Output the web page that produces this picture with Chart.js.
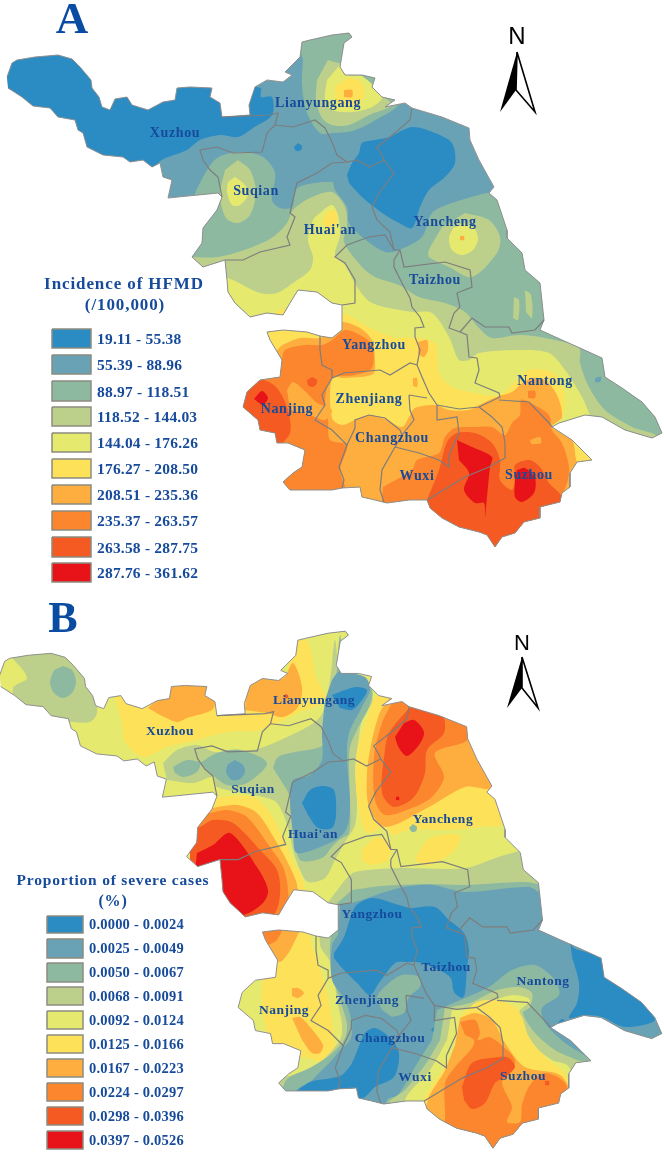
<!DOCTYPE html>
<html>
<head>
<meta charset="utf-8">
<title>HFMD maps</title>
<script src="https://cdn.jsdelivr.net/npm/chart.js@4"></script>
<style>
  body { margin: 0; background: #fff; }
  canvas { display: block; }
</style>
</head>
<body>
<canvas id="mapChart" width="664" height="1152"></canvas>
<script>
// Class breaks, one colour per class
const breaksA = ['19.11 - 55.38', '55.39 - 88.96', '88.97 - 118.51', '118.52 - 144.03', '144.04 - 176.26',
    '176.27 - 208.50', '208.51 - 235.36', '235.37 - 263.57', '263.58 - 287.75', '287.76 - 361.62'];
const breaksB = ['0.0000 - 0.0024', '0.0025 - 0.0049', '0.0050 - 0.0067', '0.0068 - 0.0091', '0.0092 - 0.0124',
    '0.0125 - 0.0166', '0.0167 - 0.0223', '0.0224 - 0.0297', '0.0298 - 0.0396', '0.0397 - 0.0526'];
const classColors = ['#2b8cc4', '#6aa2b5', '#8db9a1', '#bcd08c', '#e5ea6f', '#fde259', '#fdae3e', '#fc862e', '#f45a22', '#e81318'];

// Province outline and city borders, shared by both maps
const outline = [[7,77],[12,63],[17,60],[35,57],[58,55],[72,59],[80,67],[91,80],[92,88],[99,97],[102,107],[110,110],[115,99],[127,97],[132,105],[148,110],[163,102],[175,100],[177,88],[190,87],[212,88],[210,97],[220,103],[222,117],[250,115],[249,105],[255,87],[267,80],[283,82],[292,75],[285,72],[300,57],[302,42],[310,40],[332,35],[349,33],[352,37],[344,43],[340,67],[345,75],[362,75],[375,78],[372,87],[382,97],[395,100],[385,107],[405,103],[412,108],[442,117],[469,128],[470,140],[479,160],[494,187],[489,193],[497,200],[507,230],[507,238],[522,253],[525,270],[540,283],[544,320],[540,330],[562,340],[580,348],[602,358],[605,377],[622,388],[642,402],[655,417],[662,433],[652,438],[625,430],[602,417],[585,415],[559,423],[552,427],[572,440],[592,460],[577,462],[570,473],[570,487],[562,493],[560,502],[540,507],[540,518],[524,522],[515,533],[502,537],[495,547],[487,535],[479,532],[459,527],[442,518],[430,508],[427,500],[409,500],[387,503],[375,500],[362,497],[360,487],[342,488],[332,490],[290,490],[283,482],[293,473],[302,467],[305,450],[288,443],[277,443],[275,433],[260,430],[258,420],[243,407],[247,392],[260,380],[280,377],[282,360],[270,340],[267,332],[283,330],[307,332],[320,336],[332,338],[342,330],[342,305],[332,303],[317,292],[298,290],[290,303],[283,315],[267,313],[250,317],[235,303],[228,292],[227,280],[225,260],[203,267],[192,257],[202,243],[203,228],[217,210],[222,197],[218,193],[168,198],[172,180],[163,177],[160,163],[152,167],[143,160],[130,162],[123,157],[103,155],[87,147],[83,133],[78,130],[75,120],[58,117],[50,108],[33,106],[22,97],[8,88]];
const borders = [
    [[222,117],[270,115],[278,113],[275,125],[267,133],[262,152],[233,153],[217,147],[200,150],[203,160],[210,170],[218,177],[222,197]],
    [[275,125],[293,127],[315,120],[325,128],[332,142],[337,155],[347,162],[357,160],[370,167],[384,160],[382,155],[377,147],[395,133],[410,120],[412,108]],
    [[347,162],[332,163],[317,173],[297,183],[293,200],[290,213],[295,217],[287,237],[290,245],[260,252],[243,260],[225,260]],
    [[384,160],[394,173],[379,193],[372,207],[377,220],[390,232],[394,250],[400,250],[404,267],[445,262],[470,270],[472,287],[457,293],[460,307],[454,313],[449,328],[460,332],[467,335],[469,357],[477,358],[479,370],[475,383],[499,393],[500,397],[479,407],[459,409],[437,405]],
    [[394,250],[385,235],[369,237],[347,245],[335,257],[345,263],[355,280],[355,303],[342,305]],
    [[400,250],[394,260],[394,267],[402,283],[410,298],[412,307],[420,317],[424,327],[415,328],[415,337],[420,350],[417,365],[422,377],[429,393],[437,405]],
    [[460,332],[472,318],[485,327],[509,327],[512,333],[535,330],[544,320]],
    [[320,336],[320,350],[322,365],[332,370],[332,378],[344,373],[380,370],[390,375],[410,363],[417,365]],
    [[332,378],[322,395],[325,405],[315,420],[332,430],[347,445],[355,428],[355,420],[369,415],[385,418],[400,430],[402,435],[395,447],[382,470],[380,490],[384,502]],
    [[347,445],[339,467],[344,480],[342,488]],
    [[409,395],[427,398]],
    [[409,395],[410,410],[414,420],[402,435]],
    [[395,447],[419,453],[439,460],[449,467],[449,455],[459,433],[457,417],[437,420],[437,405]],
    [[427,500],[465,477],[489,467],[505,458],[505,443],[502,427],[492,417],[479,407]],
    [[499,400],[529,402],[549,423],[552,427]]
];

// Panel A zones
const a0West = [[0,40],[250,40],[257,87],[261,88],[261,97],[272,97],[272,115],[253,128],[238,137],[220,135],[200,140],[187,150],[158,163],[140,200],[0,200]];
const a0Dot = [[298,143],[302,146],[301,150],[296,151],[294,147]];
const a0East = [[347,175],[352,163],[359,153],[362,143],[375,140],[389,137],[412,127],[435,133],[452,143],[455,163],[445,177],[429,190],[420,207],[412,228],[399,223],[382,213],[362,197],[349,183]];
const a2North = [[295,30],[360,30],[400,100],[372,122],[352,131],[332,133],[320,133],[307,113],[302,85],[303,60]];
const a3North = [[328,60],[345,66],[345,75],[380,95],[392,105],[369,115],[349,125],[332,125],[322,118],[316,100],[317,80]];
const a4North = [[339,66],[348,75],[362,76],[382,97],[372,107],[352,112],[332,110],[325,100],[327,80]];
const a5North = [[335,87],[349,78],[362,83],[364,97],[349,107],[335,100]];
const a6North = [[344,90],[352,90],[352,97],[344,97]];
const a2South = [[192,200],[203,177],[217,158],[240,152],[263,157],[275,173],[272,200],[280,208],[292,207],[297,188],[332,182],[335,190],[347,207],[349,223],[362,237],[385,252],[399,250],[422,237],[432,213],[452,203],[492,192],[520,190],[560,300],[664,300],[664,600],[150,600],[150,300]];
const a3Suqian = [[238,160],[250,170],[256,192],[250,215],[238,223],[226,218],[220,195],[225,170]];
const a4Suqian = [[235,177],[245,185],[248,195],[240,205],[232,205],[227,192],[228,182]];
const a3South = [[190,257],[218,257],[250,248],[273,237],[287,223],[293,210],[310,198],[332,192],[345,207],[347,227],[344,242],[362,267],[375,277],[399,285],[419,297],[445,303],[465,312],[479,328],[492,338],[519,335],[545,338],[579,348],[580,363],[589,387],[605,410],[632,427],[660,440],[664,600],[100,600],[100,300]];
const a3Yancheng = [[465,213],[489,220],[500,237],[497,253],[472,277],[449,267],[429,257],[429,250],[442,227]];
const a4Yancheng = [[463,223],[474,228],[478,239],[473,250],[462,255],[452,250],[449,238],[453,228]];
const a6Yancheng = [[460,236],[464,236],[464,240],[460,240]];
const a3Spot1 = [[514,297],[519,300],[518,320],[513,318]];
const a3Spot2 = [[525,290],[531,295],[532,318],[526,312]];
const a1Spot = [[595,378],[601,377],[600,382],[595,382]];
const a4South = [[225,277],[233,280],[260,293],[277,293],[293,283],[310,270],[313,257],[308,240],[313,220],[320,213],[332,205],[338,215],[340,235],[335,255],[345,265],[357,287],[372,303],[412,312],[432,313],[449,337],[459,360],[469,360],[479,353],[519,350],[549,353],[565,370],[582,397],[589,413],[600,440],[620,520],[300,520],[200,400],[200,320]];
const a5Huaian = [[327,212],[335,210],[337,222],[330,232],[322,222]];
const a5South = [[250,325],[270,325],[277,311],[290,311],[300,325],[335,325],[342,313],[365,325],[392,337],[415,338],[435,343],[439,373],[452,387],[475,393],[499,395],[517,380],[529,370],[545,370],[558,377],[565,400],[562,417],[552,427],[575,437],[595,465],[575,470],[570,560],[250,560]];
const a6South = [[282,345],[300,338],[320,338],[332,330],[342,322],[360,328],[372,340],[375,360],[373,374],[345,378],[332,378],[332,418],[342,425],[355,420],[369,415],[387,420],[402,427],[409,417],[415,408],[435,405],[449,410],[469,410],[479,405],[499,396],[512,392],[520,385],[532,378],[545,380],[557,395],[562,417],[552,427],[572,440],[577,462],[590,480],[500,560],[250,560],[230,400]];
const a6Spot1 = [[418,342],[427,340],[428,350],[424,357],[418,354]];
const a6Spot2 = [[413,378],[417,378],[417,387],[413,386]];
const a7West = [[243,380],[280,362],[285,350],[305,345],[322,345],[332,340],[345,330],[360,335],[372,345],[372,368],[355,375],[332,378],[325,400],[328,420],[330,440],[347,445],[340,470],[345,495],[250,500]];
const a7East = [[383,487],[412,470],[417,460],[439,453],[445,437],[455,428],[475,427],[492,427],[505,435],[512,423],[520,415],[521,400],[529,402],[549,415],[552,430],[562,443],[569,467],[567,483],[560,497],[540,520],[500,560],[380,520]];
const a7Spot = [[528,391],[535,391],[535,398],[528,398]];
const a6Patch = [[287,390],[293,382],[307,393],[317,403],[332,410],[325,420],[310,415],[290,410]];
const a6Dot = [[530,440],[540,437],[541,443],[531,444]];
const a8West = [[240,407],[247,392],[262,380],[277,388],[288,410],[290,433],[277,445],[255,430]];
const a8Spot = [[312,377],[317,380],[316,385],[312,387],[308,385],[307,380]];
const a9West = [[254,399],[262,391],[268,398],[263,406]];
const a8East = [[427,500],[439,470],[447,442],[457,433],[475,433],[492,443],[500,460],[500,480],[512,490],[515,477],[515,465],[529,460],[540,467],[549,483],[562,498],[560,560],[430,560]];
const a9Main = [[457,440],[472,447],[492,457],[490,467],[487,497],[485,517],[484,503],[475,503],[464,490],[469,473],[459,460]];
const a9Suzhou = [[517,470],[525,468],[535,478],[534,493],[522,502],[515,497],[515,480]];

// Panel B zones
const b3West = [[10,655],[27,678],[13,688],[20,720],[73,722],[90,722],[97,713],[95,680],[70,640],[10,640]];
const b2West = [[63,666],[72,670],[76,682],[72,693],[63,698],[54,693],[50,682],[54,670]];
const b5North = [[115,697],[122,723],[125,742],[143,757],[167,747],[197,740],[227,732],[260,730],[300,712],[325,700],[316,677],[307,640],[290,640],[285,700],[240,660],[120,660]];
const b6Xuzhou = [[148,708],[170,687],[170,670],[207,670],[215,700],[212,710],[187,718],[177,722],[160,715]];
const b6Lyg = [[245,710],[248,685],[258,678],[283,678],[293,663],[302,687],[298,707],[283,717],[267,713]];
const b8Dot = [[285,694],[288,695],[288,698],[285,698]];
const b3Center = [[163,763],[177,750],[197,745],[215,752],[253,750],[287,737],[320,717],[330,680],[335,640],[341,672],[365,690],[373,700],[362,720],[358,745],[355,770],[357,800],[355,825],[345,842],[335,860],[325,878],[308,882],[300,870],[293,850],[288,827],[277,803],[263,797],[217,787],[213,777],[193,783],[167,780]];
const b2Suqian = [[200,763],[217,753],[240,750],[267,763],[247,783],[227,785],[210,773]];
const b2Left = [[173,767],[187,760],[200,763],[197,772],[183,777],[175,773]];
const b1Dot = [[235,760],[243,765],[245,772],[240,779],[232,780],[226,772],[228,764]];
const b2Center = [[273,768],[278,757],[295,752],[320,747],[332,735],[335,700],[340,635],[345,672],[352,673],[372,690],[369,707],[357,730],[350,747],[349,767],[350,800],[349,833],[339,840],[332,847],[322,858],[300,860],[295,830],[291,800],[287,790]];
const b1Center = [[332,680],[339,672],[365,677],[370,690],[362,707],[349,733],[347,757],[350,800],[349,820],[344,833],[332,842],[297,853],[293,833],[290,800],[293,780],[310,775],[322,760],[322,733],[325,700]];
const b0Lyg = [[332,695],[345,690],[357,687],[367,690],[362,700],[352,710],[340,708]];
const b0Huaian = [[302,803],[310,790],[323,786],[334,790],[336,815],[332,828],[318,828],[308,815]];
const b5East = [[374,697],[364,727],[357,750],[356,787],[359,810],[367,833],[385,827],[393,835],[409,830],[449,830],[480,827],[505,823],[520,790],[520,700],[400,690]];
const b5Patch1 = [[362,850],[375,838],[390,842],[388,860],[370,865],[362,860]];
const b5Patch2 = [[415,858],[430,838],[460,835],[455,850],[430,865],[417,862]];
const b2Dot = [[413,824],[417,827],[416,831],[412,832],[409,828]];
const b6East = [[388,700],[380,712],[372,740],[367,773],[369,807],[385,827],[429,807],[465,787],[492,787],[480,700],[460,700],[400,690]];
const b7East = [[392,703],[382,723],[374,757],[375,800],[385,815],[412,808],[432,797],[444,777],[435,753],[465,742],[470,735],[469,727],[415,707],[397,700]];
const b8East = [[409,708],[389,733],[385,750],[382,793],[394,807],[414,797],[425,773],[427,750],[444,733],[442,715],[412,707]];
const b9East = [[404,723],[414,720],[424,732],[419,745],[407,756],[399,748],[395,737]];
const b9Dot = [[396,797],[399,797],[399,800],[396,800]];
const b5Lobe = [[190,800],[217,797],[253,797],[270,813],[287,847],[295,865],[303,880],[305,915],[190,915]];
const b6Lobe = [[190,810],[213,808],[237,805],[257,813],[277,843],[290,867],[297,885],[297,915],[190,915]];
const b7Lobe = [[190,815],[210,813],[227,810],[247,817],[270,847],[283,867],[288,890],[285,915],[190,915]];
const b8Lobe = [[190,830],[200,827],[213,820],[233,823],[260,850],[277,870],[280,895],[272,915],[190,915]];
const b9Lobe = [[197,853],[213,845],[230,833],[257,867],[268,890],[263,903],[243,915],[190,915]];
const b5Nanjing = [[275,925],[305,925],[312,945],[325,985],[332,1020],[335,1050],[332,1063],[302,1057],[285,1060],[270,1040],[262,1010],[262,985]];
const b6NanjingTop = [[258,922],[300,922],[293,945],[280,962],[270,950]];
const b7NanjingTop = [[258,922],[283,922],[277,940],[268,945]];
const b6NanjingSpot = [[292,988],[298,988],[304,993],[298,998],[292,996]];
const b6NanjingLong = [[292,1018],[300,1017],[310,1027],[323,1045],[320,1053],[312,1053],[302,1040]];
const b3Se = [[345,880],[355,872],[399,868],[465,868],[505,855],[540,850],[560,880],[664,900],[664,1152],[270,1152],[280,1080],[293,1075],[320,1062],[340,1040],[342,1025],[337,1000],[332,965],[320,945],[322,910]];
const b2Se = [[352,890],[382,886],[429,884],[465,885],[525,882],[540,885],[560,900],[664,900],[664,1152],[275,1152],[285,1082],[310,1068],[330,1055],[344,1040],[347,1025],[340,1000],[332,975],[330,945],[335,905]];
const b1Se = [[340,905],[352,903],[399,888],[432,885],[465,892],[529,887],[545,895],[664,900],[664,1152],[280,1152],[295,1092],[310,1082],[320,1072],[332,1060],[340,1050],[350,1040],[352,1025],[345,1000],[332,980],[332,945],[338,935]];
const b0Yangzhou = [[334,953],[344,937],[355,907],[372,898],[399,905],[410,908],[435,907],[449,920],[464,933],[469,950],[467,967],[465,993],[462,998],[454,992],[450,977],[422,963],[405,962],[395,963],[379,983],[370,995],[357,983],[342,968],[334,958]];
const b2Zhenjiang = [[382,1010],[377,997],[389,983],[402,975],[419,977],[420,987],[409,997],[404,1013],[392,1017]];
const b0Changzhou = [[295,1092],[310,1082],[332,1078],[342,1075],[352,1063],[365,1033],[375,1028],[389,1037],[399,1053],[394,1077],[375,1087],[365,1097],[355,1100],[290,1100]];
const b0Dot = [[431,1030],[436,1026],[441,1030],[436,1034]];
const b0Tip = [[570,940],[574,948],[602,958],[605,977],[622,988],[642,1002],[655,1020],[625,1027],[602,1017],[585,1015],[569,1018],[577,1003],[579,983],[572,957]];
const b0Spot = [[557,1024],[562,1019],[567,1023],[562,1028]];
const b2Nantong = [[437,1010],[465,998],[489,987],[512,970],[535,965],[555,980],[559,995],[542,1008],[545,1023],[565,1043],[584,1055],[592,1062],[600,1100],[600,1152],[380,1152],[387,1100],[398,1095],[418,1062],[432,1040]];
const b3Suzhou = [[445,1008],[470,1003],[497,990],[519,987],[532,993],[530,1007],[523,1013],[535,1033],[555,1050],[577,1060],[590,1065],[600,1152],[390,1152],[387,1105],[405,1090],[425,1065],[440,1040]];
const b4Suzhou = [[452,1010],[470,1007],[500,998],[515,995],[530,1000],[519,1013],[532,1043],[552,1060],[569,1067],[600,1152],[400,1152],[405,1100],[430,1070],[447,1040]];
const b5Suzhou = [[467,1010],[477,1002],[495,1000],[515,1007],[522,1017],[529,1037],[545,1057],[562,1070],[572,1087],[600,1152],[420,1152],[424,1100],[445,1067],[456,1045],[460,1017]];
const b6Suzhou = [[460,1018],[475,1013],[492,1020],[505,1043],[525,1067],[560,1075],[575,1100],[600,1152],[430,1152],[427,1103],[445,1070],[455,1045]];
const b7Suzhou = [[460,1022],[475,1020],[480,1033],[478,1040],[489,1037],[499,1043],[515,1060],[510,1073],[502,1083],[512,1107],[507,1122],[520,1122],[522,1105],[530,1085],[545,1073],[565,1083],[570,1110],[560,1152],[440,1152],[445,1120],[445,1083],[455,1067],[472,1048],[474,1040],[465,1035]];
const b8Suzhou = [[462,1087],[472,1063],[499,1057],[509,1058],[515,1067],[505,1077],[495,1083],[485,1103],[472,1109],[464,1100]];
const b8Dot2 = [[545,1081],[549,1081],[549,1085],[545,1085]];
const b6Dot2 = [[463,1046],[467,1046],[467,1050],[463,1050]];

// Painted back to front: [class index, polygon]
const zonesA = [
    [0,a0West],[0,a0Dot],[0,a0East],[2,a2North],[3,a3North],[4,a4North],[5,a5North],[6,a6North],
    [2,a2South],[3,a3Suqian],[4,a4Suqian],[3,a3South],[3,a3Yancheng],[4,a4Yancheng],[6,a6Yancheng],[3,a3Spot1],[3,a3Spot2],[1,a1Spot],
    [4,a4South],[5,a5Huaian],[5,a5South],[6,a6South],[6,a6Spot1],[6,a6Spot2],
    [7,a7West],[7,a7East],[7,a7Spot],[6,a6Patch],[6,a6Dot],[8,a8West],[8,a8Spot],[9,a9West],[8,a8East],[9,a9Main],[9,a9Suzhou]
];
const zonesB = [
    [3,b3West],[2,b2West],[5,b5North],[6,b6Xuzhou],[6,b6Lyg],[8,b8Dot],
    [3,b3Center],[2,b2Suqian],[2,b2Left],[1,b1Dot],[2,b2Center],[1,b1Center],[0,b0Lyg],[0,b0Huaian],
    [5,b5East],[5,b5Patch1],[5,b5Patch2],[2,b2Dot],[6,b6East],[7,b7East],[8,b8East],[9,b9East],[9,b9Dot],
    [5,b5Lobe],[6,b6Lobe],[7,b7Lobe],[8,b8Lobe],[9,b9Lobe],[5,b5Nanjing],[6,b6NanjingTop],[7,b7NanjingTop],[6,b6NanjingSpot],[6,b6NanjingLong],
    [3,b3Se],[2,b2Se],[1,b1Se],[0,b0Yangzhou],[2,b2Zhenjiang],[0,b0Changzhou],[0,b0Dot],[0,b0Tip],[0,b0Spot],
    [2,b2Nantong],[3,b3Suzhou],[4,b4Suzhou],[5,b5Suzhou],[6,b6Suzhou],[7,b7Suzhou],[8,b8Suzhou],[8,b8Dot2],[6,b6Dot2]
];

// City names: [name, centre x, centre y]
const citiesA = [['Xuzhou',175,133],['Lianyungang',318,103],['Suqian',256,191],["Huai'an",330,230],['Yancheng',445,222],['Taizhou',435,280],
    ['Yangzhou',374,345],['Nantong',545,381],['Nanjing',287,409],['Zhenjiang',369,399],['Changzhou',392,438],['Wuxi',417,476],['Suzhou',529,475]];
const citiesB = [['Xuzhou',170,732],['Lianyungang',314,701],['Suqian',253,790],["Huai'an",313,835],['Yancheng',443,820],['Yangzhou',372,915],
    ['Taizhou',446,968],['Nantong',543,982],['Nanjing',284,1011],['Zhenjiang',367,1001],['Changzhou',390,1039],['Wuxi',415,1078],['Suzhou',523,1077]];

// Legend boxes, top and bottom edge of each
const swatchTopA = [329,355,381,407,433,459,485,511,537,563];
const swatchBottomA = [348,374,401,426,452,478,504,530,557,582];
const swatchTopB = [916,939,963,987,1011,1035,1059,1083,1107,1131];
const swatchBottomB = [933,958,982,1005,1029,1053,1077,1101,1125,1149];

const arrowLeftA = [[517,52],[516,90],[500,112]];
const arrowRightA = [[517,52],[535,112],[516,90]];
const arrowLeftB = [[522,657],[522,688],[507,708]];
const arrowRightB = [[522,657],[538,708],[522,688]];

const textBlue = '#164a9b';
const serif = '"Liberation Serif", serif';

function polygon(points, color, xAxisID, yAxisID, tension) {
    return {
        data: points, xAxisID: xAxisID || 'x', yAxisID: yAxisID || 'y', showLine: true, fill: 'shape',
        backgroundColor: color, borderWidth: 0, borderColor: color, pointRadius: 0, tension: tension || 0, clip: false
    };
}
function path(points, color, width, xAxisID, yAxisID) {
    return {
        data: points, xAxisID: xAxisID || 'x', yAxisID: yAxisID || 'y', showLine: true, fill: false,
        borderColor: color, borderWidth: width, pointRadius: 0, clip: false
    };
}
function box(x0, x1, top, bottom, color) {
    const ds = polygon([[x0, top], [x1, top], [x1, bottom], [x0, bottom], [x0, top]], color);
    ds.borderColor = '#8c8c80';
    ds.borderWidth = 1.5;
    return ds;
}

// Map fills come first, they get clipped to the province shape
let datasets = [];
datasets.push(polygon(outline, classColors[1]));
zonesA.forEach(z => datasets.push(polygon(z[1], classColors[z[0]], 'x', 'y', 0.3)));
datasets.push(polygon(outline, classColors[4], 'mapX', 'mapY'));
zonesB.forEach(z => datasets.push(polygon(z[1], classColors[z[0]], 'x', 'y', 0.3)));
const fillCount = datasets.length;

datasets.push(path(outline, '#8f8f8f', 1));
datasets.push(path(outline, '#8f8f8f', 1, 'mapX', 'mapY'));
borders.forEach(b => {
    datasets.push(path(b, '#7d7d7d', 1.2));
    datasets.push(path(b, '#7d7d7d', 1.2, 'mapX', 'mapY'));
});
classColors.forEach((c, i) => {
    datasets.push(box(52, 91, swatchTopA[i], swatchBottomA[i], c));
    datasets.push(box(47, 83, swatchTopB[i], swatchBottomB[i], c));
});
[arrowLeftA, arrowLeftB].forEach(a => datasets.push(polygon(a.concat([a[0]]), '#000')));
[arrowRightA, arrowRightB].forEach(a => datasets.push(path(a.concat([a[0]]), '#000', 1.6)));

// Chart.js paints the first dataset last
const total = datasets.length;
datasets.reverse();

const clipToProvince = {
    id: 'clipToProvince',
    beforeDatasetsDraw(chart) {
        const ctx = chart.ctx;
        ctx.save();
        ctx.beginPath();
        [['x', 'y'], ['mapX', 'mapY']].forEach(([sx, sy]) => {
            outline.forEach((p, i) => {
                const px = chart.scales[sx].getPixelForValue(p[0]);
                const py = chart.scales[sy].getPixelForValue(p[1]);
                if (i === 0) ctx.moveTo(px, py); else ctx.lineTo(px, py);
            });
            ctx.closePath();
        });
        ctx.clip();
    },
    afterDatasetDraw(chart, args) {
        if (args.index === total - fillCount) chart.ctx.restore();
    }
};

const mapText = {
    id: 'mapText',
    afterDraw(chart) {
        const ctx = chart.ctx;
        const px = v => chart.scales.x.getPixelForValue(v);
        const py = v => chart.scales.y.getPixelForValue(v);
        const put = (text, x, y, font, color, align, spacing) => {
            ctx.font = font;
            ctx.fillStyle = color;
            ctx.textAlign = align;
            ctx.textBaseline = 'middle';
            ctx.letterSpacing = spacing || '0px';
            ctx.fillText(text, px(x), py(y));
        };
        ctx.save();
        put('A', 72, 21, 'bold 45px ' + serif, '#0b4ca3', 'center');
        put('B', 63, 621, 'bold 44px ' + serif, '#0b4ca3', 'center');
        put('N', 517, 37, '24px "Liberation Sans", sans-serif', '#000', 'center');
        put('N', 522, 644, '22px "Liberation Sans", sans-serif', '#000', 'center');

        put('Incidence of HFMD', 124, 285, 'bold 17px ' + serif, textBlue, 'center', '0.9px');
        put('(/100,000)', 125, 306, 'bold 17px ' + serif, textBlue, 'center', '0.9px');
        put('Proportion of severe cases', 113, 881, 'bold 15.5px ' + serif, textBlue, 'center', '0.8px');
        put('(%)', 113, 902, 'bold 16px ' + serif, textBlue, 'center', '0.8px');

        breaksA.forEach((t, i) => put(t, 97, (swatchTopA[i] + swatchBottomA[i]) / 2 + 1.5, 'bold 15.5px ' + serif, textBlue, 'left', '0.2px'));
        breaksB.forEach((t, i) => put(t, 89, (swatchTopB[i] + swatchBottomB[i]) / 2 + 1, 'bold 14.5px ' + serif, textBlue, 'left', '0.2px'));

        citiesA.forEach(c => put(c[0], c[1], c[2], 'bold 14px ' + serif, textBlue, 'center', '0.6px'));
        citiesB.forEach(c => put(c[0], c[1], c[2], 'bold 13.5px ' + serif, textBlue, 'center', '0.5px'));
        ctx.restore();
    }
};

new Chart(document.getElementById('mapChart').getContext('2d'), {
    type: 'scatter',
    data: { datasets: datasets },
    plugins: [clipToProvince, mapText],
    options: {
        responsive: false,
        animation: false,
        layout: { padding: 0 },
        plugins: { legend: { display: false }, tooltip: { enabled: false } },
        scales: {
            x: { type: 'linear', display: false, min: 0, max: 664 },
            y: { type: 'linear', display: false, min: 0, max: 1152, reverse: true },
            // Panel B shows the same outline a little shifted and stretched
            mapX: { type: 'linear', axis: 'x', display: false, min: 7.42, max: 664.2 },
            mapY: { type: 'linear', axis: 'y', display: false, min: -594.4, max: 550.7, reverse: true }
        }
    }
});
</script>
</body>
</html>
